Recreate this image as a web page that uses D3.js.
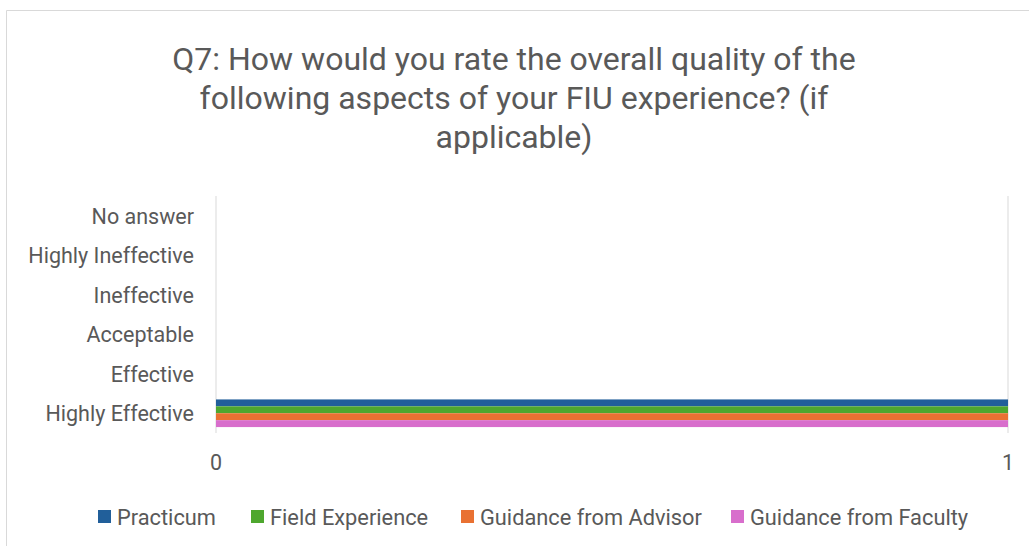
<!DOCTYPE html>
<html>
<head>
<meta charset="utf-8">
<script src="https://cdn.jsdelivr.net/npm/d3@7"></script>
<style>
  body { margin: 0; background: #fff; }
  text { font-family: Roboto, "Liberation Sans", sans-serif; fill: #595959; }
</style>
</head>
<body>
<svg id="chart" width="1029" height="546"></svg>
<script>
const categories = ["No answer", "Highly Ineffective", "Ineffective", "Acceptable", "Effective", "Highly Effective"];
const seriesNames = ["Practicum", "Field Experience", "Guidance from Advisor", "Guidance from Faculty"];
const practicum = [0, 0, 0, 0, 0, 1];
const fieldExperience = [0, 0, 0, 0, 0, 1];
const guidanceAdvisor = [0, 0, 0, 0, 0, 1];
const guidanceFaculty = [0, 0, 0, 0, 0, 1];
const xTicks = [0, 1];
const titleLines = ["Q7: How would you rate the overall quality of the", "following aspects of your FIU experience? (if", "applicable)"];

const values = [practicum, fieldExperience, guidanceAdvisor, guidanceFaculty];
const colors = ["#215F9A", "#4EA72E", "#E97132", "#D86ECC"];

const svg = d3.select("#chart");

// outer chart border
svg.append("path")
  .attr("d", "M6.5,546 V10.5 H1029")
  .attr("fill", "none")
  .attr("stroke", "#d9d9d9");

svg.append("g").selectAll("text")
  .data(titleLines)
  .join("text")
  .attr("x", 514)
  .attr("y", (d, i) => 70 + i * 39)
  .attr("text-anchor", "middle")
  .style("font-size", "32px")
  .text(d => d);

const plotLeft = 216, plotRight = 1008, plotTop = 196, plotBottom = 433;

const x = d3.scaleLinear().domain([0, 1]).range([plotLeft, plotRight]);
const y = d3.scaleBand().domain(categories).range([plotTop, plotBottom]).paddingInner(0.3).paddingOuter(0.15);
const ySub = d3.scaleBand().domain(seriesNames).range([0, y.bandwidth()]);

// gridlines
svg.append("g").selectAll("line")
  .data(xTicks)
  .join("line")
  .attr("x1", d => x(d)).attr("x2", d => x(d))
  .attr("y1", plotTop).attr("y2", plotBottom)
  .attr("stroke", "#d9d9d9");

// bars
seriesNames.forEach((name, s) => {
  svg.append("g").selectAll("rect")
    .data(categories.map((c, i) => ({ c, v: values[s][i] })))
    .join("rect")
    .attr("x", x(0))
    .attr("y", d => y(d.c) + ySub(name))
    .attr("width", d => x(d.v) - x(0))
    .attr("height", ySub.bandwidth())
    .attr("fill", colors[s]);
});

// category labels
svg.append("g").selectAll("text")
  .data(categories)
  .join("text")
  .attr("x", 194)
  .attr("y", d => y(d) + y.bandwidth() / 2 + 8)
  .attr("text-anchor", "end")
  .style("font-size", "21.5px")
  .text(d => d);

// x tick labels
svg.append("g").selectAll("text")
  .data(xTicks)
  .join("text")
  .attr("x", d => x(d))
  .attr("y", 470)
  .attr("text-anchor", "middle")
  .style("font-size", "21.5px")
  .text(d => d);

// legend
const legendX = [98, 251, 461, 731];
const legend = svg.append("g").selectAll("g")
  .data(seriesNames)
  .join("g")
  .attr("transform", (d, i) => `translate(${legendX[i]}, 517)`);
legend.append("rect")
  .attr("x", 0).attr("y", -7)
  .attr("width", 13).attr("height", 13)
  .attr("fill", (d, i) => colors[i]);
legend.append("text")
  .attr("x", 19).attr("y", 8)
  .style("font-size", "21.8px")
  .text(d => d);
</script>
</body>
</html>
